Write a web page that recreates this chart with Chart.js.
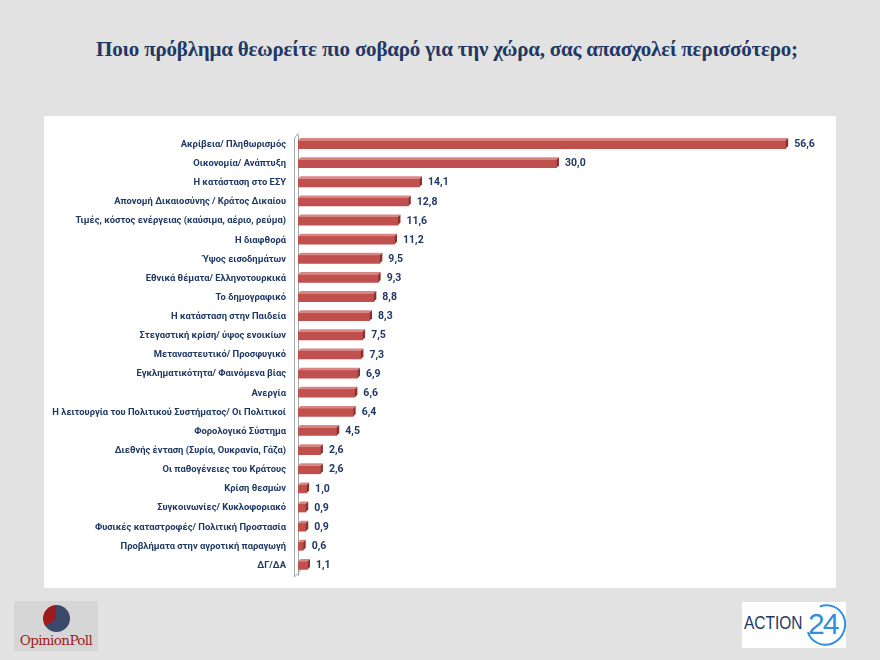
<!DOCTYPE html>
<html>
<head>
<meta charset="utf-8">
<script src="https://cdn.jsdelivr.net/npm/chart.js@4/dist/chart.umd.min.js"></script>
<style>
  html, body { margin: 0; padding: 0; }
  body { width: 880px; height: 660px; background: #e2e2e2; position: relative; overflow: hidden; font-family: Roboto, "Open Sans", sans-serif; }
  #title { position: absolute; left: 0; top: 37px; width: 880px; text-align: center; font-family: "Liberation Serif", "DejaVu Serif", serif; font-weight: bold; font-size: 21px; color: #1f3864; letter-spacing: -0.2px; padding-left: 14px; box-sizing: border-box; }
  #panel { position: absolute; left: 44px; top: 116px; width: 792px; height: 472px; background: #ffffff; }
  #opinion { position: absolute; left: 14px; top: 601px; width: 84px; height: 50px; background: #d6d6d6; }
  #opinion .pie { position: absolute; left: 29px; top: 4px; width: 27px; height: 27px; border-radius: 50%; background: conic-gradient(#3b4a6b 0deg 235deg, #9e1b1b 235deg 360deg); }
  #opinion .txt { position: absolute; left: 0; width: 84px; top: 31px; text-align: center; font-family: "DejaVu Serif", serif; font-size: 13.5px; color: #9e1b1b; letter-spacing: -0.6px; }
  #action { position: absolute; left: 742px; top: 602px; width: 104px; height: 46px; background: #ffffff; }
  #action .a { position: absolute; left: 2px; top: 11px; font-family: "Liberation Sans", sans-serif; font-size: 18px; color: #1f3864; transform: scaleX(0.86); transform-origin: left center; }
  #action .ring { position: absolute; left: 64px; top: 2px; width: 40px; height: 42px; border-radius: 50%; border: 2px solid #2f8fe0; border-left-color: transparent; box-sizing: border-box; transform: rotate(25deg); }
  #action .n { position: absolute; left: 66px; top: 5px; font-family: "Liberation Sans", sans-serif; font-size: 30px; color: #2f8fe0; letter-spacing: -2px; }
</style>
</head>
<body>
<div id="title">Ποιο πρόβλημα θεωρείτε πιο σοβαρό για την χώρα, σας απασχολεί περισσότερο;</div>
<div id="panel"><canvas id="chart" width="792" height="472"></canvas></div>
<div id="opinion"><div class="pie"></div><div class="txt">OpinionPoll</div></div>
<div id="action"><div class="a">ACTION</div><div class="ring"></div><div class="n">24</div></div>
<script>
const categories = [
  'Ακρίβεια/ Πληθωρισμός',
  'Οικονομία/ Ανάπτυξη',
  'Η κατάσταση στο ΕΣΥ',
  'Απονομή Δικαιοσύνης / Κράτος Δικαίου',
  'Τιμές, κόστος ενέργειας (καύσιμα, αέριο, ρεύμα)',
  'Η διαφθορά',
  'Ύψος εισοδημάτων',
  'Εθνικά θέματα/ Ελληνοτουρκικά',
  'Το δημογραφικό',
  'Η κατάσταση στην Παιδεία',
  'Στεγαστική κρίση/ ύψος ενοικίων',
  'Μεταναστευτικό/ Προσφυγικό',
  'Εγκληματικότητα/ Φαινόμενα βίας',
  'Ανεργία',
  'Η λειτουργία του Πολιτικού Συστήματος/ Οι Πολιτικοί',
  'Φορολογικό Σύστημα',
  'Διεθνής ένταση (Συρία, Ουκρανία, Γάζα)',
  'Οι παθογένειες του Κράτους',
  'Κρίση θεσμών',
  'Συγκοινωνίες/ Κυκλοφοριακό',
  'Φυσικές καταστροφές/ Πολιτική Προστασία',
  'Προβλήματα στην αγροτική παραγωγή',
  'ΔΓ/ΔΑ'
];
const values = [56.6, 30.0, 14.1, 12.8, 11.6, 11.2, 9.5, 9.3, 8.8, 8.3, 7.5, 7.3, 6.9, 6.6, 6.4, 4.5, 2.6, 2.6, 1.0, 0.9, 0.9, 0.6, 1.1];

const navy = '#1f3864';
const barColor = '#c0504d';

// 3D look for the bars, value labels and the axis wall
const bars3d = {
  id: 'bars3d',
  afterDatasetsDraw(chart) {
    const ctx = chart.ctx;
    const meta = chart.getDatasetMeta(0);
    const d = 2.5;
    ctx.save();
    meta.data.forEach((bar, i) => {
      const top = bar.y - bar.height / 2;
      const bot = bar.y + bar.height / 2;
      // top face
      ctx.fillStyle = '#d98583';
      ctx.beginPath();
      ctx.moveTo(bar.base, top);
      ctx.lineTo(bar.base + d, top - d);
      ctx.lineTo(bar.x + d, top - d);
      ctx.lineTo(bar.x, top);
      ctx.closePath();
      ctx.fill();
      // side face
      ctx.fillStyle = '#8c2f2d';
      ctx.beginPath();
      ctx.moveTo(bar.x, top);
      ctx.lineTo(bar.x + d, top - d);
      ctx.lineTo(bar.x + d, bot - d);
      ctx.lineTo(bar.x, bot);
      ctx.closePath();
      ctx.fill();
      // value label
      ctx.fillStyle = navy;
      ctx.font = 'bold 10.5px Roboto, sans-serif';
      ctx.textAlign = 'left';
      ctx.textBaseline = 'middle';
      ctx.fillText(values[i].toFixed(1).replace('.', ','), bar.x + d + 6, bar.y);
    });
    // axis wall slants
    const a = chart.chartArea;
    ctx.strokeStyle = '#a6a6a6';
    ctx.lineWidth = 1;
    ctx.beginPath();
    ctx.moveTo(a.left - 3.5, a.top + 3);
    ctx.lineTo(a.left - 3.5, a.bottom + 2);
    ctx.lineTo(a.left + 3, a.bottom - 5);
    ctx.moveTo(a.left - 3.5, a.top + 3);
    ctx.lineTo(a.left + 0.5, a.top - 2);
    ctx.stroke();
    ctx.restore();
  }
};

new Chart(document.getElementById('chart'), {
  type: 'bar',
  data: {
    labels: categories,
    datasets: [{
      data: values,
      backgroundColor: barColor,
      borderWidth: 0,
      barThickness: 8
    }]
  },
  options: {
    indexAxis: 'y',
    responsive: false,
    animation: false,
    layout: { padding: { left: 0, right: 21, top: 19, bottom: 13 } },
    scales: {
      x: {
        display: false,
        min: 0,
        max: 60
      },
      y: {
        afterFit(scale) {
          scale.width = 254;
          scale.paddingTop = 0;
          scale.paddingBottom = 0;
        },
        grid: { display: false, drawTicks: false },
        border: { display: true, color: '#a6a6a6', width: 1 },
        ticks: {
          padding: 12,
          color: navy,
          font: { family: 'Roboto, sans-serif', size: 9.4, weight: 'bold' }
        }
      }
    },
    plugins: {
      legend: { display: false },
      tooltip: { enabled: false }
    }
  },
  plugins: [bars3d]
});
</script>
</body>
</html>
